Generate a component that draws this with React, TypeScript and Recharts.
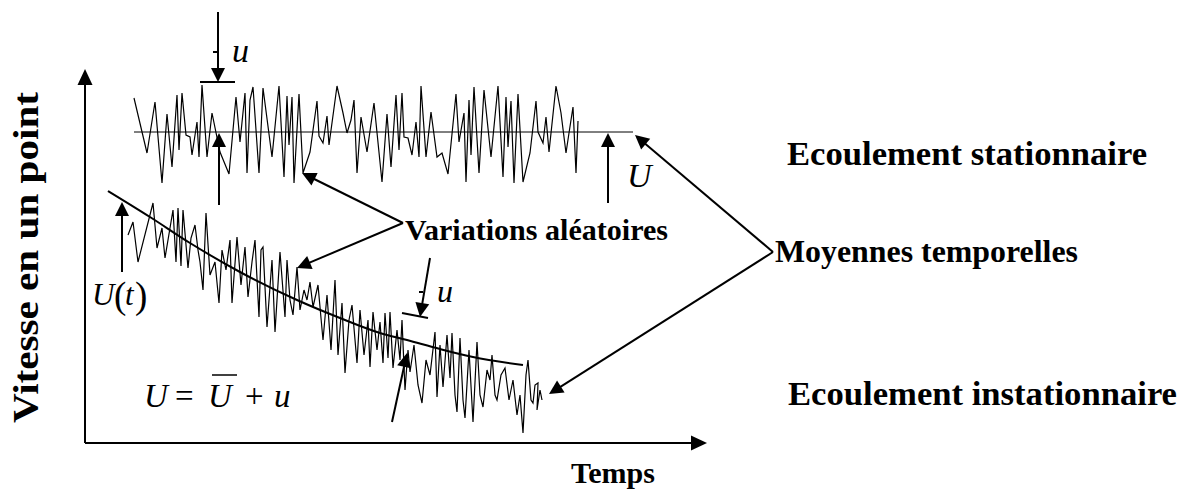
import React from 'react';
import { LineChart, Line, XAxis, YAxis, ReferenceLine } from 'recharts';

const steadyTime = [
  49, 62, 70, 77, 82, 87, 92, 94, 97, 101, 105, 107, 112, 114, 117, 122, 127, 135, 144, 151,
  155, 160, 162, 165, 168, 174, 178, 187, 194, 199, 202, 204, 207, 209, 214, 218, 225, 232, 234, 238,
  242, 244, 252, 258, 262, 266, 269, 272, 276, 282, 289, 297, 302, 306, 311, 314, 317, 319, 323, 327,
  331, 334, 336, 341, 346, 352, 357, 363, 371, 374, 379, 381, 384, 386, 389, 394, 399, 406, 413, 418,
  421, 423, 426, 429, 433, 438, 445, 451, 453, 458, 461, 464, 471, 476, 481, 484, 488, 491, 493,
];
const steadySpeed = [
  345, 290, 341, 260, 329, 276, 348, 293, 350, 308, 306, 288, 321, 286, 358, 286, 330, 291, 269, 346,
  301, 350, 270, 343, 356, 270, 355, 286, 357, 266, 347, 298, 346, 260, 349, 270, 291, 342, 307, 300,
  327, 298, 357, 330, 310, 323, 343, 270, 326, 291, 340, 261, 329, 276, 348, 293, 350, 306, 305, 288,
  321, 286, 357, 286, 331, 286, 290, 269, 349, 301, 330, 261, 343, 288, 356, 270, 353, 286, 357, 266,
  346, 296, 342, 260, 349, 261, 290, 342, 311, 300, 326, 291, 357, 330, 290, 310, 336, 270, 322,
];
const steadyMeanTime = [49, 548];
const steadyMeanSpeed = [311, 311];

// Écoulement instationnaire
const unsteadyTime = [
  43, 48, 53, 68, 72, 77, 80, 88, 91, 93, 96, 98, 103, 106, 110, 113, 115, 118, 121, 125,
  130, 134, 137, 141, 145, 147, 152, 156, 160, 163, 167, 170, 174, 176, 178, 182, 187, 190, 195, 200,
  202, 205, 208, 212, 215, 219, 222, 225, 228, 233, 238, 242, 246, 250, 253, 257, 260, 264, 267, 272,
  275, 279, 283, 285, 288, 292, 295, 298, 300, 303, 305, 308, 312, 315, 317, 320, 323, 325, 329, 333,
  337, 341, 345, 350, 352, 355, 358, 362, 365, 367, 370, 372, 375, 378, 380, 384, 388, 392, 395, 398,
  402, 405, 407, 410, 412, 416, 420, 424, 428, 432, 435, 438, 441, 443, 446, 448, 450, 453, 452, 455, 457,
];
const unsteadySpeed = [
  208, 221, 181, 240, 195, 215, 185, 233, 181, 235, 177, 233, 175, 205, 218, 193, 181, 153, 230, 168,
  181, 140, 193, 173, 203, 140, 206, 158, 196, 146, 181, 203, 126, 193, 196, 116, 183, 111, 191, 126,
  183, 143, 128, 176, 133, 153, 143, 161, 136, 158, 103, 148, 93, 163, 88, 140, 70, 123, 138, 80,
  133, 88, 123, 76, 131, 93, 121, 80, 130, 85, 131, 75, 113, 83, 123, 53, 93, 71, 98, 58,
  40, 83, 68, 111, 46, 98, 56, 108, 65, 110, 48, 31, 105, 43, 25, 93, 21, 101, 48, 36,
  73, 63, 88, 48, 43, 68, 75, 43, 63, 28, 48, 10, 68, 83, 43, 40, 58, 60, 33, 53, 43,
];
const unsteadyMeanTime = [23, 65, 105, 155, 212, 255, 295, 322, 355, 388, 438];
const unsteadyMeanSpeed = [252, 226, 200, 171, 143, 125, 110, 103, 94, 86, 78];

// flèches d'annotation [t1, v1, t2, v2] (pointe en t2, v2)
const arrows = [
  [133, 431, 133, 361],
  [134, 238, 134, 310],
  [523, 240, 523, 310],
  [688, 191, 550, 308],
  [688, 191, 464, 49],
  [318, 220, 217, 270],
  [318, 220, 212, 175],
  [37, 171, 37, 241],
  [345, 185, 335, 126],
  [307, 21, 322, 90],
];
const marks = [
  [115, 361, 150, 361],
  [128, 391, 132, 391],
  [317, 130, 343, 125],
  [334, 151, 338, 151],
];
const axes = [
  [0, 0, 622, 0],
  [0, 0, 0, 374],
];

const zip = (ts: number[], vs: number[]) => ts.map((t, i) => ({ t, v: vs[i] }));
const steady = zip(steadyTime, steadySpeed);
const steadyMean = zip(steadyMeanTime, steadyMeanSpeed);
const unsteady = zip(unsteadyTime, unsteadySpeed);
const unsteadyMean = zip(unsteadyMeanTime, unsteadyMeanSpeed);

const makeArrow = (len: number, half: number, width: number) => (p: any) => {
  const { x1, y1, x2, y2 } = p;
  const dx = x2 - x1;
  const dy = y2 - y1;
  const d = Math.hypot(dx, dy) || 1;
  const ux = dx / d;
  const uy = dy / d;
  const bx = x2 - ux * len;
  const by = y2 - uy * len;
  return (
    <g>
      <line x1={x1} y1={y1} x2={bx + ux} y2={by + uy} stroke="#000" strokeWidth={width} />
      <polygon
        points={`${x2},${y2} ${bx - uy * half},${by + ux * half} ${bx + uy * half},${by - ux * half}`}
        fill="#000"
      />
    </g>
  );
};

const serif = '"Liberation Serif", "Times New Roman", serif';

export default function App() {
  return (
    <div style={{ position: 'absolute', left: 0, top: 0, width: 1192, height: 490, background: '#fff' }}>
      <LineChart width={1192} height={490} margin={{ top: 69, right: 484, bottom: 47, left: 85 }}>
        <XAxis type="number" dataKey="t" domain={[0, 623]} hide allowDataOverflow />
        <YAxis type="number" domain={[0, 374]} hide allowDataOverflow />
        {axes.map(([a, b, c, d], i) => (
          <ReferenceLine
            key={'ax' + i}
            segment={[{ x: a, y: b }, { x: c, y: d }]}
            ifOverflow="visible"
            shape={makeArrow(16, 7.5, 2)}
          />
        ))}
        <Line data={steady} dataKey="v" type="linear" stroke="#000" strokeWidth={1.2} dot={false} isAnimationActive={false} />
        <Line data={steadyMean} dataKey="v" type="linear" stroke="#000" strokeWidth={1} dot={false} isAnimationActive={false} />
        <Line data={unsteady} dataKey="v" type="linear" stroke="#000" strokeWidth={1.2} dot={false} isAnimationActive={false} />
        <Line data={unsteadyMean} dataKey="v" type="monotone" stroke="#000" strokeWidth={2} dot={false} isAnimationActive={false} />
        {arrows.map(([a, b, c, d], i) => (
          <ReferenceLine
            key={'ar' + i}
            segment={[{ x: a, y: b }, { x: c, y: d }]}
            ifOverflow="visible"
            shape={makeArrow(14, 7, 2)}
          />
        ))}
        {marks.map(([a, b, c, d], i) => (
          <ReferenceLine
            key={'mk' + i}
            segment={[{ x: a, y: b }, { x: c, y: d }]}
            ifOverflow="visible"
            stroke="#000"
            strokeWidth={2}
          />
        ))}
      </LineChart>
      <svg
        width={1192}
        height={490}
        style={{ position: 'absolute', left: 0, top: 0, pointerEvents: 'none' }}
        fontFamily={serif}
        fill="#000"
      >
        <g fontWeight="bold">
          <text x={787} y={165} fontSize={34} textLength={360} lengthAdjust="spacingAndGlyphs">Ecoulement stationnaire</text>
          <text x={775} y={262} fontSize={32} textLength={303} lengthAdjust="spacingAndGlyphs">Moyennes temporelles</text>
          <text x={788} y={405} fontSize={34} textLength={389} lengthAdjust="spacingAndGlyphs">Ecoulement instationnaire</text>
          <text x={405} y={240} fontSize={30} textLength={263} lengthAdjust="spacingAndGlyphs">Variations aléatoires</text>
          <text x={571} y={483} fontSize={29} textLength={84} lengthAdjust="spacingAndGlyphs">Temps</text>
          <text
            transform="translate(38,257.5) rotate(-90)"
            textAnchor="middle"
            fontSize={36}
            textLength={331}
            lengthAdjust="spacingAndGlyphs"
          >
            Vitesse en un point
          </text>
        </g>
        <g fontStyle="italic">
          <text x={232} y={62} fontSize={34}>u</text>
          <text x={627} y={187} fontSize={34}>U</text>
          <text x={437} y={302} fontSize={32}>u</text>
          <text x={92} y={305} fontSize={31}>U</text>
          <text x={125} y={305} fontSize={31}>t</text>
          <text x={144} y={407} fontSize={33}>U</text>
          <text x={208} y={407} fontSize={33}>U</text>
          <text x={274} y={407} fontSize={33}>u</text>
        </g>
        <text x={114} y={308} fontSize={37}>(</text>
        <text x={135} y={308} fontSize={37}>)</text>
        <text x={175} y={407} fontSize={33}>=</text>
        <text x={245} y={407} fontSize={33}>+</text>
        <line x1={212} y1={375} x2={237} y2={375} stroke="#000" strokeWidth={1.5} />
      </svg>
    </div>
  );
}
